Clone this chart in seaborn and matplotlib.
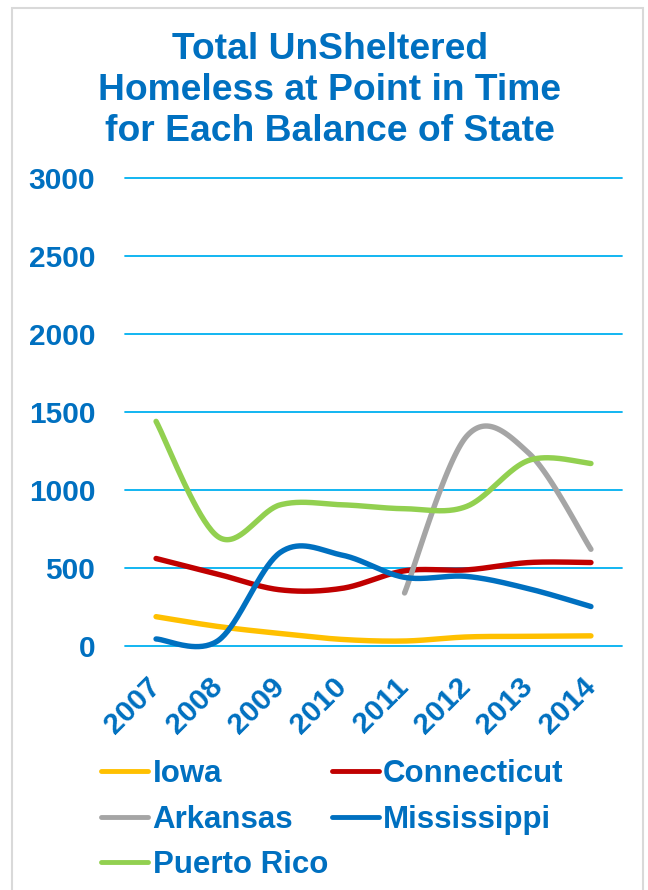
import numpy as np
import pandas as pd
import matplotlib
matplotlib.use("Agg")
import matplotlib.pyplot as plt
import matplotlib.transforms as mtransforms
from matplotlib.lines import Line2D
from matplotlib.patches import Rectangle
import seaborn as sns

# ---- data -------------------------------------------------------------
years = ["2007", "2008", "2009", "2010", "2011", "2012", "2013", "2014"]
iowa = [188, 125, 80, 42, 32, 58, 62, 65]
connecticut = [561, 460, 360, 370, 482, 488, 535, 535]
arkansas = [np.nan, np.nan, np.nan, np.nan, 340, 1345, 1236, 620]
mississippi = [45, 35, 600, 582, 440, 446, 367, 253]
puerto_rico = [1440, 700, 905, 905, 880, 895, 1190, 1170]

states = ["Iowa", "Connecticut", "Arkansas", "Mississippi", "Puerto Rico"]
series = [iowa, connecticut, arkansas, mississippi, puerto_rico]
colors = ["#FFC000", "#C00000", "#A5A5A5", "#0070C0", "#92D050"]
yticks = [0, 500, 1000, 1500, 2000, 2500, 3000]

BLUE = "#0070C0"
GRID = "#00B0F0"


def smooth(xs, ys, n=40):
    """Bezier smoothing through every point (control points at 1/6 of the
    neighbouring chord), the way office charts draw 'smoothed lines'."""
    xs = np.asarray(xs, float)
    ys = np.asarray(ys, float)
    m = ~np.isnan(ys)
    xs, ys = xs[m], ys[m]
    px, py = [], []
    k = len(xs)
    t = np.linspace(0, 1, n)
    for i in range(k - 1):
        x0, y0 = (xs[i - 1], ys[i - 1]) if i > 0 else (xs[i], ys[i])
        x3, y3 = (xs[i + 2], ys[i + 2]) if i + 2 < k else (xs[i + 1], ys[i + 1])
        x1, y1 = xs[i], ys[i]
        x2, y2 = xs[i + 1], ys[i + 1]
        c1x, c1y = x1 + (x2 - x0) / 6, y1 + (y2 - y0) / 6
        c2x, c2y = x2 - (x3 - x1) / 6, y2 - (y3 - y1) / 6
        bx = (1 - t) ** 3 * x1 + 3 * (1 - t) ** 2 * t * c1x + 3 * (1 - t) * t ** 2 * c2x + t ** 3 * x2
        by = (1 - t) ** 3 * y1 + 3 * (1 - t) ** 2 * t * c1y + 3 * (1 - t) * t ** 2 * c2y + t ** 3 * y2
        if i > 0:
            bx, by = bx[1:], by[1:]
        px.extend(bx)
        py.extend(by)
    return np.array(px), np.array(py)


frames = []
xpos = np.arange(len(years))
for name, vals in zip(states, series):
    sx, sy = smooth(xpos, vals)
    frames.append(pd.DataFrame({"x": sx, "value": sy, "state": name}))
df = pd.concat(frames, ignore_index=True)

# ---- figure -----------------------------------------------------------
sns.set_style("white")
plt.rcParams["font.family"] = ["Liberation Sans", "DejaVu Sans"]
plt.rcParams["font.weight"] = "bold"

fig = plt.figure(figsize=(6.48, 8.90), dpi=100)
ax = fig.add_axes([125 / 648, 1 - 646 / 890, (622 - 125) / 648, (646 - 178) / 890])

for y in yticks:
    ax.axhline(y, color=GRID, lw=1.3, zorder=0)

sns.lineplot(data=df, x="x", y="value", hue="state", hue_order=states,
             palette=dict(zip(states, colors)), sort=False, estimator=None,
             units="state", linewidth=3.9, legend=False, ax=ax)
for ln in ax.get_lines():
    ln.set_solid_capstyle("round")
    ln.set_clip_on(False)

ax.set_xlim(-0.5, len(years) - 0.5)
ax.set_ylim(0, 3000)
ax.set_xticks(xpos)
ax.set_xticklabels(years, rotation=45, ha="right", va="top")
ax.set_yticks(yticks)
ax.set_yticklabels([str(v) for v in yticks])
ax.tick_params(axis="y", length=0, pad=21.5, labelsize=21.5, labelcolor=BLUE)
ax.tick_params(axis="x", length=0, pad=19, labelsize=21.5, labelcolor=BLUE)
shift = mtransforms.ScaledTranslation(10 / 100, 0, fig.dpi_scale_trans)
for lab in ax.get_xticklabels():
    lab.set_transform(lab.get_transform() + shift)
for lab in ax.get_xticklabels() + ax.get_yticklabels():
    lab.set_fontweight("bold")
ax.set_xlabel("")
ax.set_ylabel("")
sns.despine(ax=ax, left=True, bottom=True)
ax.grid(False)

# title
fig.text(0.509, 1 - 90.5 / 890,
         "Total UnSheltered\nHomeless at Point in Time\nfor Each Balance of State",
         ha="center", va="center", fontsize=26.8, fontweight="bold",
         color=BLUE, linespacing=1.22)

# legend, filled row by row: Iowa | Connecticut, Arkansas | Mississippi, Puerto Rico
handles = {s: Line2D([], [], color=c, lw=3.5, solid_capstyle="round")
           for s, c in zip(states, colors)}
order = ["Iowa", "Arkansas", "Puerto Rico", "Connecticut", "Mississippi"]
leg = fig.legend([handles[s] for s in order], order, ncol=2,
                 loc="upper left", bbox_to_anchor=(101 / 648, 1 - 759 / 890),
                 frameon=False, fontsize=22.5, handlelength=1.5,
                 handletextpad=0.15, columnspacing=0.12, labelspacing=0.5,
                 borderpad=0, borderaxespad=0)
for t in leg.get_texts():
    t.set_color(BLUE)
    t.set_fontweight("bold")

# light frame around the chart
fig.patches.append(Rectangle((12 / 648, -0.05), (643 - 12) / 648, 1.05 - 8 / 890,
                             transform=fig.transFigure, fill=False,
                             edgecolor="#D9D9D9", lw=1.5))

fig.savefig("out.png", dpi=100, facecolor="white")
